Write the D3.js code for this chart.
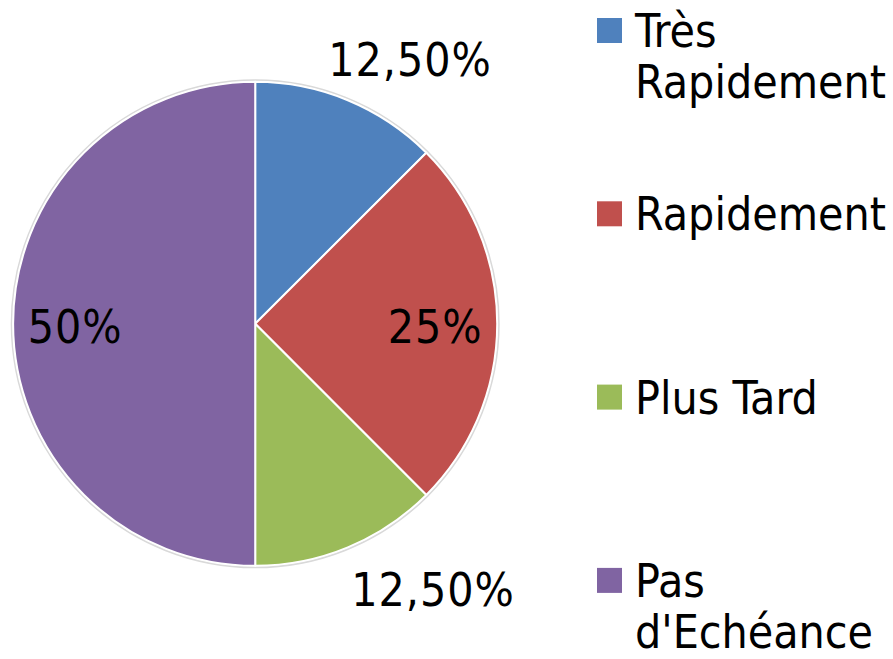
<!DOCTYPE html>
<html>
<head>
<meta charset="utf-8">
<script src="https://cdn.jsdelivr.net/npm/d3@7"></script>
<style>
  html, body { margin: 0; padding: 0; background: #fff; }
  svg { display: block; }
  text { font-family: "DejaVu Sans Condensed", "DejaVu Sans", sans-serif; fill: #000; }
</style>
</head>
<body>
<svg id="chart" width="893" height="659"></svg>
<script>
// ---- Data ----
const categories = ["Très Rapidement", "Rapidement", "Plus Tard", "Pas d'Echéance"];
const values = [12.5, 25, 12.5, 50];
const valueLabels = ["12,50%", "25%", "12,50%", "50%"];
const colors = ["#4F81BD", "#C0504D", "#9BBB59", "#8064A2"];

// ---- Layout ----
const W = 893, H = 659;
const cx = 255.2, cy = 323.8, R = 242;
const fontSize = 46;
const svg = d3.select("#chart");

const pie = d3.pie().sort(null).value(d => d)(values);
const arc = d3.arc().innerRadius(0).outerRadius(R);

const g = svg.append("g").attr("transform", `translate(${cx},${cy})`);

// soft outer edge
g.append("circle").attr("r", R + 1.5).attr("fill", "none")
  .attr("stroke", "#d9d9d9").attr("stroke-width", 2);

g.selectAll("path.slice").data(pie).join("path")
  .attr("class", "slice")
  .attr("d", arc)
  .attr("fill", (d, i) => colors[i])
  .attr("stroke", "#fff")
  .attr("stroke-width", 2)
  .attr("stroke-linejoin", "round");

// labels: inside-end for big slices, outside-end for small slices
const insideArc = d3.arc().innerRadius(180).outerRadius(180);
const outsideArc = d3.arc().innerRadius(R + 45).outerRadius(R + 45);
const labelPos = pie.map((d, i) => {
  const frac = (d.endAngle - d.startAngle) / (2 * Math.PI);
  if (frac >= 0.2) {
    const c = insideArc.centroid(d);
    return { x: c[0], y: c[1] + 19 };
  }
  const c = outsideArc.centroid(d);
  const mid = (d.startAngle + d.endAngle) / 2;
  const push = Math.sign(Math.sin(mid)) * (Math.cos(mid) > 0 ? 45 : 68);
  return { x: c[0] + push, y: c[1] + 17 };
});

g.selectAll("text.val").data(pie).join("text")
  .attr("class", "val")
  .attr("x", (d, i) => labelPos[i].x)
  .attr("y", (d, i) => labelPos[i].y)
  .attr("text-anchor", "middle")
  .attr("font-size", fontSize)
  .attr("letter-spacing", 1)
  .text((d, i) => valueLabels[i]);

// ---- Legend ----
const legX = 597, textX = 635, maxW = W - textX;
const firstBaseline = 47, step = 183.3, lineH = 51, sq = 25;

const leg = svg.append("g");
categories.forEach((name, i) => {
  const y0 = firstBaseline + i * step;
  leg.append("rect")
    .attr("x", legX).attr("y", y0 - 29)
    .attr("width", sq).attr("height", sq)
    .attr("fill", colors[i]);
  const t = leg.append("text")
    .attr("x", textX).attr("y", y0)
    .attr("font-size", fontSize);
  // word wrap by measured width
  const words = name.split(" ");
  let line = [], lineNo = 0;
  let tspan = t.append("tspan").attr("x", textX).attr("y", y0);
  words.forEach(w => {
    line.push(w);
    tspan.text(line.join(" "));
    if (tspan.node().getComputedTextLength() > maxW && line.length > 1) {
      line.pop();
      tspan.text(line.join(" "));
      line = [w];
      lineNo++;
      tspan = t.append("tspan").attr("x", textX).attr("y", y0 + lineNo * lineH).text(w);
    }
  });
});
</script>
</body>
</html>
